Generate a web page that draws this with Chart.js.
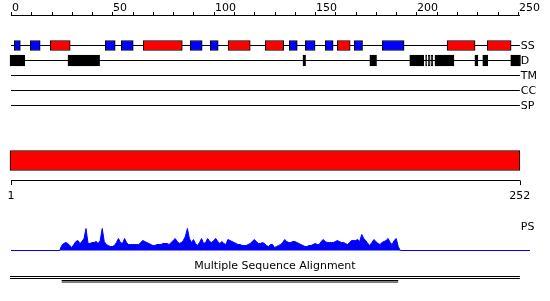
<!DOCTYPE html>
<html>
<head>
<meta charset="utf-8">
<script src="https://cdn.jsdelivr.net/npm/chart.js@4/dist/chart.umd.min.js"></script>
<style>
  html, body { margin: 0; padding: 0; background: #fff; }
  canvas { display: block; }
</style>
</head>
<body>
<canvas id="chart" width="550" height="301"></canvas>
<script>
'use strict';

// sequence axis
const topTicks = [0, 50, 100, 150, 200, 250];
const seqEnds = [1, 252];
const trackNames = ['SS', 'D', 'TM', 'CC', 'SP'];

// secondary structure (positions along sequence axis)
const helixRanges = [[19.4, 29.2], [65.2, 84.5], [107.1, 118.0], [125.4, 134.5],
    [160.9, 167.3], [215.1, 228.9], [234.9, 246.7]];
const strandRanges = [[1.6, 4.6], [9.5, 14.4], [46.5, 51.4], [54.4, 60.3], [88.4, 94.3],
    [98.3, 102.2], [137.2, 141.2], [145.1, 150.0], [155.0, 158.9], [169.3, 173.4], [183.1, 193.9]];

// disorder
const disorderRanges = [[-0.5, 6.8], [28.1, 43.7], [144.0, 145.3], [177.0, 180.3],
    [196.7, 203.6], [204.5, 205.1], [205.8, 206.5], [207.1, 208.1], [209.1, 218.5],
    [228.8, 230.3], [232.7, 235.2], [246.5, 251.3]];

// domain bar
const domainRange = [-0.5, 251];

// PS profile, starting at residue psStart
const psStart = 24;
const psValues = [0, 5, 7, 8, 7, 5, 3, 6, 9, 10, 7, 9, 12, 22, 7, 7, 8, 8, 9, 7,
    10, 22, 9, 6, 5, 4, 4, 5, 8, 12, 8, 7, 12, 8, 6, 6, 6, 6, 6, 6,
    8, 10, 9, 8, 7, 6, 5, 5, 6, 6, 6, 7, 7, 7, 6, 8, 10, 12, 9, 7,
    8, 10, 14, 22, 12, 8, 11, 7, 5, 8, 12, 7, 8, 12, 9, 8, 10, 12, 9, 7,
    9, 7, 6, 11, 10, 9, 8, 7, 6, 6, 5, 5, 5, 6, 7, 9, 11, 9, 7, 7,
    8, 7, 5, 4, 6, 6, 3, 4, 5, 6, 8, 11, 9, 8, 8, 9, 9, 8, 7, 6,
    5, 4, 4, 5, 5, 6, 7, 6, 6, 9, 11, 9, 8, 8, 8, 8, 9, 10, 9, 8,
    8, 7, 6, 8, 10, 10, 10, 11, 9, 16, 12, 10, 7, 5, 8, 11, 9, 7, 6, 8,
    9, 10, 12, 8, 6, 10, 12, 4, 0];
const psEnd = 256;

// alignment coverage
const msaCoverage = [25, 191];
const msaTitle = 'Multiple Sequence Alignment';

// layout (pixel rows on the 'trk' axis)
const rowY = { SS: 45.5, D: 60.5, TM: 75.5, CC: 90.5, SP: 105.5, domain: 160.5 };
const FONT = '11px "DejaVu Sans", sans-serif';

const rangeBars = (ranges, y) => ranges.map(r => ({ x: r, y: y }));

const barBase = {
    type: 'bar',
    indexAxis: 'y',
    xAxisID: 'x',
    yAxisID: 'trk',
    grouped: false,
    borderColor: '#000',
    borderWidth: 1,
    borderSkipped: false,
    clip: false,
    order: 0
};

const trackLines = trackNames.map(name => ({
    type: 'line',
    xAxisID: 'x',
    yAxisID: 'trk',
    data: [{ x: 0, y: rowY[name] }, { x: 251, y: rowY[name] }],
    borderColor: '#000',
    borderWidth: 1,
    pointRadius: 0,
    clip: false,
    order: 2
}));

const psData = [{ x: 0, y: 0 }, ...psValues.map((v, i) => ({ x: psStart + i, y: v })), { x: psEnd, y: 0 }];

// axes, labels, alignment lines
const decorPlugin = {
    id: 'decor',
    afterDraw(chart) {
        const ctx = chart.ctx;
        const x = chart.scales.x;
        const px = v => x.getPixelForValue(v);
        ctx.save();
        ctx.strokeStyle = '#000';
        ctx.fillStyle = '#000';
        ctx.lineWidth = 1;
        ctx.font = FONT;

        // top ruler
        ctx.beginPath();
        ctx.moveTo(px(0), 15.5);
        ctx.lineTo(px(251), 15.5);
        for (let t = 0; t <= 250; t += 10) {
            const xx = Math.round(px(t)) + 0.5;
            ctx.moveTo(xx, 15.5);
            ctx.lineTo(xx, 12);
        }
        ctx.stroke();
        ctx.textAlign = 'left';
        ctx.textBaseline = 'alphabetic';
        topTicks.forEach(t => ctx.fillText(String(t), Math.round(px(t)) + 1, 11));

        // track names
        ctx.textBaseline = 'middle';
        trackNames.forEach(name => ctx.fillText(name, px(251) + 1, rowY[name] + 0.5));
        ctx.fillText('PS', px(251) + 1, 227.5);

        // sequence ruler under the domain bar
        const a = px(seqEnds[0] - 1), b = px(seqEnds[1] - 1);
        ctx.beginPath();
        ctx.moveTo(a, 180.5);
        ctx.lineTo(b, 180.5);
        ctx.moveTo(Math.round(a) + 0.5, 180.5);
        ctx.lineTo(Math.round(a) + 0.5, 185);
        ctx.moveTo(Math.round(b) + 0.5, 180.5);
        ctx.lineTo(Math.round(b) + 0.5, 185);
        ctx.stroke();
        ctx.textAlign = 'center';
        ctx.fillText(String(seqEnds[0]), a, 196);
        ctx.fillText(String(seqEnds[1]), b, 196);

        // alignment
        ctx.fillText(msaTitle, 275, 266.5);
        ctx.beginPath();
        ctx.moveTo(px(-0.5), 276.5);
        ctx.lineTo(b, 276.5);
        ctx.moveTo(px(-0.5), 278.5);
        ctx.lineTo(b, 278.5);
        ctx.moveTo(px(msaCoverage[0]), 280.5);
        ctx.lineTo(px(msaCoverage[1]), 280.5);
        ctx.moveTo(px(msaCoverage[0]), 282);
        ctx.lineTo(px(msaCoverage[1]), 282);
        ctx.stroke();
        ctx.restore();
    }
};

new Chart(document.getElementById('chart'), {
    type: 'line',
    data: {
        datasets: [
            { ...barBase, data: rangeBars(helixRanges, rowY.SS), backgroundColor: '#ff0000', barThickness: 10 },
            { ...barBase, data: rangeBars(strandRanges, rowY.SS), backgroundColor: '#0000ff', barThickness: 10 },
            { ...barBase, data: rangeBars(disorderRanges, rowY.D), backgroundColor: '#000', barThickness: 11 },
            { ...barBase, data: rangeBars([domainRange], rowY.domain), backgroundColor: '#ff0000', barThickness: 20 },
            ...trackLines,
            {
                type: 'line',
                xAxisID: 'x',
                yAxisID: 'ps',
                data: psData,
                borderColor: '#0000ff',
                backgroundColor: '#0000ff',
                borderWidth: 1,
                pointRadius: 0,
                tension: 0,
                fill: 'origin',
                clip: false,
                order: 1
            }
        ]
    },
    options: {
        responsive: false,
        animation: false,
        events: [],
        layout: { padding: { left: 11, right: 20, top: 0, bottom: 0 } },
        plugins: {
            legend: { display: false },
            tooltip: { enabled: false },
            title: { display: false }
        },
        scales: {
            x: { type: 'linear', min: 0, max: 256, offset: false, display: false },
            trk: { type: 'linear', position: 'left', reverse: true, min: 0, max: 301, offset: false, display: false },
            ps: { type: 'linear', position: 'right', min: -50.5, max: 250.5, offset: false, display: false }
        }
    },
    plugins: [decorPlugin]
});
</script>
</body>
</html>
